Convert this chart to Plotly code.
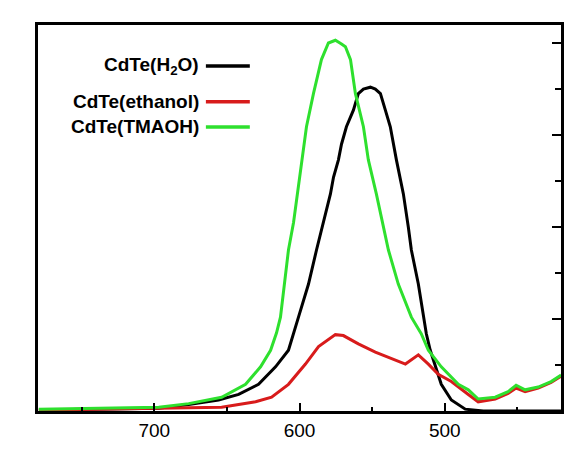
import plotly.graph_objects as go

# wavelength (nm) and absorbance
h2o_wl = [779.4, 731.3, 696.9, 676.3, 655.7, 641.9, 628.2, 616.5, 607.6, 600.7,
          593.8, 588.3, 583.5, 578.7, 576.6, 573.2, 571.1, 567.7, 562.9, 559.5,
          556.0, 551.2, 547.8, 544.3, 540.9, 537.5, 533.3, 528.5, 525.1, 523.0,
          518.2, 514.8, 512.7, 510.0, 506.5, 502.4, 495.5, 485.9, 473.5, 419.9]
h2o_abs = [0.001, 0.002, 0.003, 0.007, 0.012, 0.018, 0.029, 0.048, 0.066, 0.102,
           0.138, 0.175, 0.205, 0.236, 0.254, 0.273, 0.290, 0.309, 0.327, 0.345,
           0.350, 0.352, 0.350, 0.345, 0.327, 0.309, 0.273, 0.236, 0.200, 0.175,
           0.138, 0.102, 0.084, 0.066, 0.048, 0.029, 0.012, 0.002, 0.000, 0.000]

eth_wl = [779.4, 731.3, 676.3, 653.6, 630.2, 619.2, 607.6, 595.9, 586.9, 580.1,
          575.3, 569.8, 559.5, 547.8, 536.8, 527.1, 518.2, 511.3, 504.5, 495.5,
          483.8, 477.0, 465.3, 456.4, 450.9, 444.7, 435.7, 426.8, 419.9]
eth_abs = [0.001, 0.002, 0.003, 0.004, 0.010, 0.015, 0.029, 0.051, 0.070, 0.078,
           0.083, 0.082, 0.073, 0.064, 0.057, 0.051, 0.061, 0.051, 0.040, 0.032,
           0.018, 0.010, 0.013, 0.019, 0.025, 0.021, 0.025, 0.031, 0.038]

tma_wl = [779.4, 731.3, 696.9, 676.3, 653.6, 637.1, 626.8, 619.9, 615.8, 613.1,
          610.3, 607.6, 604.1, 601.4, 598.6, 595.2, 590.4, 584.9, 580.1, 575.3,
          571.1, 568.4, 564.9, 561.5, 556.0, 552.6, 547.1, 542.3, 538.8, 532.0,
          523.0, 516.2, 511.3, 502.4, 490.7, 483.8, 477.0, 465.3, 456.4, 450.9,
          444.7, 435.7, 426.8, 419.9]
tma_abs = [0.002, 0.003, 0.004, 0.008, 0.015, 0.029, 0.048, 0.066, 0.085, 0.102,
           0.138, 0.175, 0.205, 0.238, 0.273, 0.309, 0.345, 0.382, 0.400, 0.403,
           0.399, 0.396, 0.382, 0.345, 0.309, 0.273, 0.236, 0.200, 0.175, 0.138,
           0.102, 0.084, 0.066, 0.048, 0.029, 0.023, 0.013, 0.015, 0.021, 0.028,
           0.023, 0.026, 0.032, 0.039]

names = ["CdTe(H<sub>2</sub>O)", "CdTe(ethanol)", "CdTe(TMAOH)"]
colors = ["#000000", "#d81b1b", "#2ee02e"]
series = [(h2o_wl, h2o_abs), (eth_wl, eth_abs), (tma_wl, tma_abs)]

fig = go.Figure()
# draw TMAOH last so it sits on top of the ethanol tail, as in the reference
for (wl, ab), name, col in zip(series, names, colors):
    fig.add_trace(go.Scatter(x=wl, y=ab, mode="lines", name=name,
                             line=dict(color=col, width=3)))

# legend drawn by hand: text on the left, line sample on the right
legend_y = [0.894, 0.801, 0.736]
for name, col, ly in zip(names, colors, legend_y):
    fig.add_annotation(x=0.312, y=ly, xref="paper", yref="paper", text=name,
                       showarrow=False, xanchor="right", yanchor="middle",
                       font=dict(family="Liberation Sans", size=19, color="black",
                                 weight="bold"))
    fig.add_shape(type="line", xref="paper", yref="paper", x0=0.321, x1=0.405,
                  y0=ly, y1=ly, line=dict(color=col, width=3.5))

fig.update_layout(
    width=576, height=452,
    margin=dict(l=30, r=23, t=17, b=49),
    plot_bgcolor="white", paper_bgcolor="white",
    showlegend=False,
    font=dict(family="Liberation Sans", size=19, color="black"),
)
fig.update_xaxes(range=[780, 420], tickvals=[700, 600, 500], ticks="inside",
                 ticklen=8, tickwidth=2, tickcolor="black",
                 minor=dict(tickvals=[750, 650, 550, 450], ticks="inside",
                            ticklen=4, tickwidth=2, tickcolor="black"),
                 showline=True, linecolor="black", linewidth=3, mirror=True,
                 showgrid=False, zeroline=False,
                 tickfont=dict(size=19))
fig.update_yaxes(range=[0, 0.4196], dtick=0.1, tick0=0, side="right",
                 ticks="inside", ticklen=9, tickwidth=2, tickcolor="black",
                 minor=dict(dtick=0.05, ticks="inside", ticklen=6, tickwidth=2,
                            tickcolor="black"),
                 showticklabels=False,
                 showline=True, linecolor="black", linewidth=3, mirror=True,
                 showgrid=False, zeroline=False)

fig.write_html("out.html")
